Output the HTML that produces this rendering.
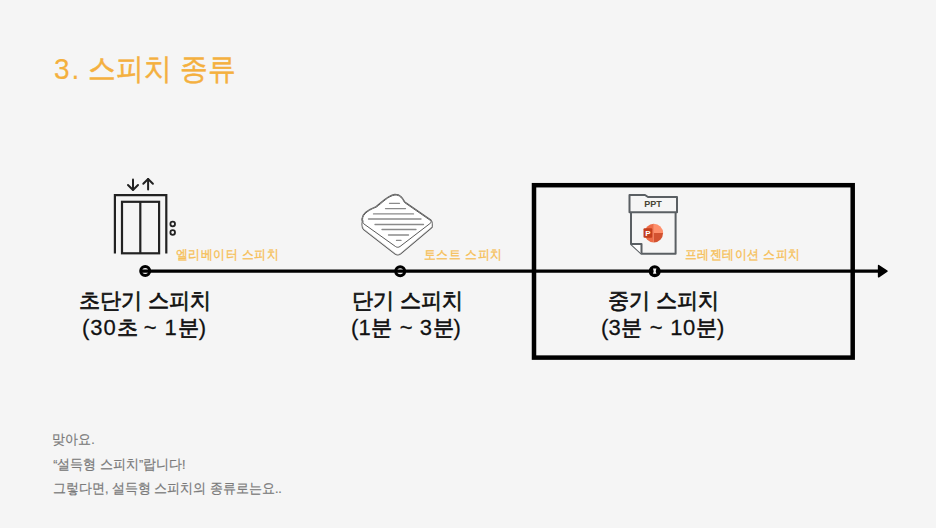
<!DOCTYPE html>
<html lang="ko"><head><meta charset="utf-8">
<style>
html,body{margin:0;padding:0;}
body{width:936px;height:528px;background:#f5f5f5;position:relative;overflow:hidden;font-family:"Liberation Sans",sans-serif;}
.t{position:absolute;white-space:nowrap;line-height:1;}
#title{left:54px;top:54px;font-size:28px;transform-origin:0 0;transform:scaleY(1.08);color:#f4b03e;-webkit-text-stroke:0.45px #f4b03e;}
.lbl{font-size:12px;letter-spacing:0.45px;transform-origin:0 0;transform:scaleY(1.1);color:#f6c058;-webkit-text-stroke:0.3px #f6c058;}
.big{font-size:21px;transform-origin:0 0;transform:scaleY(1.04);color:#111;-webkit-text-stroke:0.65px #111;}
.n{font-size:22px;letter-spacing:1px;-webkit-text-stroke:0.25px #111;}
.small{font-size:12.5px;transform-origin:0 0;transform:scaleY(1.08);color:#7a7a7a;-webkit-text-stroke:0.2px #7a7a7a;}
svg{position:absolute;left:0;top:0;}
</style></head>
<body>
<div id="title" class="t"><span style="-webkit-text-stroke:0.15px #f4b03e">3<span style="margin-left:2px">.</span></span><span style="margin-left:1px"> 스피치 종류</span></div>

<svg width="936" height="528" viewBox="0 0 936 528">
  <!-- elevator -->
  <g fill="none" stroke="#222" stroke-width="2.2">
    <polyline points="114.9,253.4 114.9,195.2 166.3,195.2 166.3,253.4"/>
    <rect x="122" y="201.8" width="37.1" height="51.5"/>
    <line x1="140.3" y1="201.8" x2="140.3" y2="253.3"/>
    <circle cx="172.7" cy="224" r="2.3" stroke-width="1.8"/>
    <circle cx="172.7" cy="232.5" r="2.3" stroke-width="1.8"/>
    <g stroke-width="2" stroke-linecap="round" stroke-linejoin="round">
      <line x1="133" y1="179.5" x2="133" y2="189.5"/>
      <polyline points="128,185 133,190 138,185"/>
      <line x1="148.1" y1="179" x2="148.1" y2="189.5"/>
      <polyline points="143.3,183.8 148.1,179 152.9,183.8"/>
    </g>
  </g>

  <!-- toast -->
  <g stroke-linejoin="round">
    <path d="M363,221.5 C361,216 366,211 376.5,207 C382,203 388,196 395,195 C400,195 402,198 404.5,202.5 L430.5,220.5 C432,222 432,224 431.5,227 L400,253.5 C398.5,254.5 397,254.5 395.5,253.5 L364,229 C362.5,227.5 362.5,224 363,221.5 Z" fill="#fff" stroke="#5a5a5a" stroke-width="2.4"/>
    <path d="M363,221.5 C361,216 366,211 376.5,207 C382,203 388,196 395,195 C400,195 402,198 404.5,202.5 L430.5,220.5 C432,222 432,224 431.5,227 L400,253.5 C398.5,254.5 397,254.5 395.5,253.5 L364,229 C362.5,227.5 362.5,224 363,221.5 Z" fill="#fff" stroke="#e6e6e6" stroke-width="0.7"/>
    <path d="M363,221.5 C361,216 366,211 376.5,207 C382,203 388,196 395,195 C400,195 402,198 404.5,202.5 L430.5,220.5 C431.5,221.5 431.5,222.5 430,223.5 L400,246.5 C398.5,247.5 397,247.5 395.5,246.5 L364,224 C363,223 362.8,222.5 363,221.5 Z" fill="#fff" stroke="#5a5a5a" stroke-width="1"/>
  </g>
  <g stroke="#8a8a8a" stroke-width="1.3" stroke-linecap="round">
    <line x1="389.5" y1="203.3" x2="399.5" y2="203.3"/>
    <line x1="385.5" y1="208.6" x2="405.5" y2="208.6"/>
    <line x1="373.5" y1="213.9" x2="413.5" y2="213.9"/>
    <line x1="368.5" y1="219" x2="421" y2="219"/>
    <line x1="375" y1="224.5" x2="423.5" y2="224.5"/>
    <line x1="382" y1="229.5" x2="416" y2="229.5"/>
    <line x1="388.5" y1="235" x2="408.5" y2="235"/>
    <line x1="396.5" y1="240.4" x2="401" y2="240.4"/>
  </g>

  <!-- ppt icon -->
  <g fill="none" stroke="#5a5f63" stroke-width="2" stroke-linejoin="round">
    <path d="M631,212.3 L631,243.9 L641.5,253.8 L675.6,253.8 L675.6,212.3" fill="#f5f5f5"/>
    <path d="M631,243.9 L641.5,243.9 L641.5,253.8" fill="#fff"/>
    <path d="M629.5,212.3 L629.5,195 L645,195 L648,197 L677,197 L677,212.3 Z" fill="#f5f5f5"/>
  </g>
  <text x="653" y="207.2" font-family="Liberation Sans" font-weight="bold" font-size="9" fill="#474536" text-anchor="middle">PPT</text>
  <g>
    <path d="M653.8,233.1 L653.8,223.8 A9.3,9.3 0 0 1 663.1,233.1 Z" fill="#ff8f6b"/>
    <path d="M653.8,233.1 L663.1,233.1 A9.3,9.3 0 0 1 653.8,242.4 Z" fill="#d35230"/>
    <path d="M653.8,223.8 L653.8,242.4 A9.3,9.3 0 0 1 653.8,223.8 Z" fill="#ed6c47"/>
    <rect x="643.5" y="228.2" width="8.7" height="9.5" rx="1" fill="#c43e1c"/>
    <text x="647.9" y="236" font-family="Liberation Sans" font-weight="bold" font-size="8" fill="#fff" text-anchor="middle">P</text>
  </g>

  <!-- timeline -->
  <line x1="141" y1="271.2" x2="879" y2="271.2" stroke="#000" stroke-width="3.2"/>
  <polygon points="878.6,265.6 887,271.2 878.6,276.8" fill="#000" stroke="#000" stroke-width="1.5" stroke-linejoin="round"/>
  <circle cx="145.2" cy="271.1" r="4.5" fill="none" stroke="#000" stroke-width="3"/>
  <circle cx="400.2" cy="271.2" r="4.5" fill="none" stroke="#000" stroke-width="3"/>
  <circle cx="654.7" cy="271.2" r="6" fill="#000"/><path d="M653,268.6 L656.4,268.6 L655.7,271.2 L656.4,273.8 L653,273.8 L653.7,271.2 Z" fill="#f5f5f5"/>
  <!-- box -->
  <rect x="534" y="185.2" width="318.7" height="172.4" fill="none" stroke="#000" stroke-width="4.5"/>
</svg>

<div class="t lbl" style="left:176px;top:248px;">엘리베이터 스피치</div>
<div class="t lbl" style="left:424px;top:248px;">토스트 스피치</div>
<div class="t lbl" style="left:685px;top:248px;">프레젠테이션 스피치</div>

<div class="t big" style="left:79px;top:289px;">초단기 스피치</div>
<div class="t big" style="left:82px;top:316px;"><span class="n">(30</span>초 <span class="n">~ 1</span>분<span class="n">)</span></div>
<div class="t big" style="left:352px;top:289px;">단기 스피치</div>
<div class="t big" style="left:351px;top:316px;"><span class="n" style="letter-spacing:0.2px">(1</span>분 <span class="n" style="margin-left:2px;letter-spacing:0.5px">~ 3</span>분<span class="n">)</span></div>
<div class="t big" style="left:608px;top:289px;">중기 스피치</div>
<div class="t big" style="left:601px;top:316px;"><span class="n" style="letter-spacing:0.2px">(3</span>분 <span class="n" style="margin-left:2px;letter-spacing:0.7px">~ 10</span>분<span class="n">)</span></div>

<div class="t small" style="left:52.2px;top:433px;">맞아요.</div>
<div class="t small" style="left:53.3px;top:458px;">“설득형 스피치”랍니다!</div>
<div class="t small" style="left:53px;top:482px;">그렇다면, 설득형 스피치의 종류로는요..</div>
</body></html>
